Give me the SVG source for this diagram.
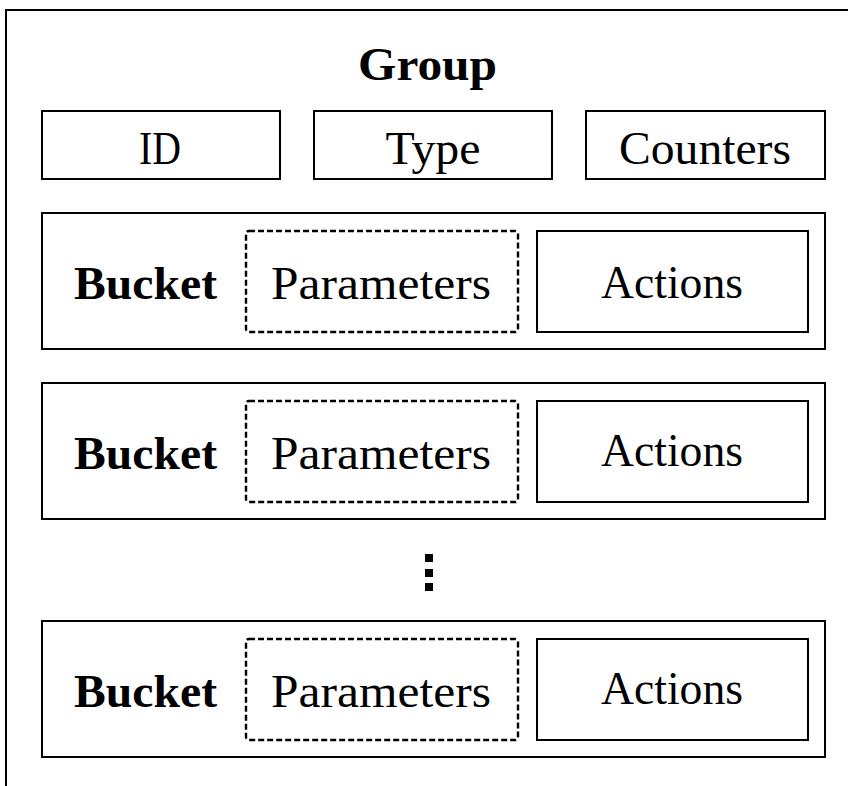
<svg xmlns="http://www.w3.org/2000/svg" width="848" height="786" viewBox="0 0 848 786">
<style>
.box{fill:#fff;stroke:#000;stroke-width:2}
.dash{fill:#fff;stroke:#000;stroke-width:2.4;stroke-dasharray:6 3}
.t{font-family:"Liberation Serif",serif;font-size:46px;fill:#000;text-anchor:middle}
.b{font-family:"Liberation Serif",serif;font-size:46px;font-weight:bold;fill:#000}
</style>
<rect width="848" height="786" fill="#fff"/>
<g id="frame"><path d="M6,786 V10 H848" fill="none" stroke="#000" stroke-width="2"/></g>
<g id="group-title"><text class="b" x="358" y="80" textLength="139" lengthAdjust="spacingAndGlyphs">Group</text></g>
<g id="id"><rect class="box" x="42" y="111" width="238" height="68"/><text class="t" x="160" y="164" textLength="42" lengthAdjust="spacingAndGlyphs">ID</text></g>
<g id="type"><rect class="box" x="314" y="111" width="238" height="68"/><text class="t" x="433" y="164" textLength="95" lengthAdjust="spacingAndGlyphs">Type</text></g>
<g id="counters"><rect class="box" x="586" y="111" width="239" height="68"/><text class="t" x="705" y="164" textLength="172" lengthAdjust="spacingAndGlyphs">Counters</text></g>
<g id="bucket1">
<rect class="box" x="42" y="213" width="783" height="136"/>
<text class="b" x="74" y="299" textLength="143" lengthAdjust="spacingAndGlyphs">Bucket</text>
<rect class="dash" x="246" y="231" width="272" height="101" rx="3"/>
<text class="t" x="381" y="299" textLength="220" lengthAdjust="spacingAndGlyphs">Parameters</text>
<rect class="box" x="537" y="231" width="271" height="101" stroke-width="2.5"/>
<text class="t" x="672" y="298" textLength="142" lengthAdjust="spacingAndGlyphs">Actions</text>
</g>
<g id="bucket2">
<rect class="box" x="42" y="383" width="783" height="136"/>
<text class="b" x="74" y="469" textLength="143" lengthAdjust="spacingAndGlyphs">Bucket</text>
<rect class="dash" x="246" y="401" width="272" height="101" rx="3"/>
<text class="t" x="381" y="469" textLength="220" lengthAdjust="spacingAndGlyphs">Parameters</text>
<rect class="box" x="537" y="401" width="271" height="101" stroke-width="2.5"/>
<text class="t" x="672" y="466" textLength="142" lengthAdjust="spacingAndGlyphs">Actions</text>
</g>
<g id="ellipsis">
<rect x="425" y="554" width="8" height="8"/>
<rect x="425" y="569" width="8" height="8"/>
<rect x="425" y="583" width="8" height="8"/>
</g>
<g id="bucket3">
<rect class="box" x="42" y="621" width="783" height="136"/>
<text class="b" x="74" y="707" textLength="143" lengthAdjust="spacingAndGlyphs">Bucket</text>
<rect class="dash" x="246" y="639" width="272" height="101" rx="3"/>
<text class="t" x="381" y="707" textLength="220" lengthAdjust="spacingAndGlyphs">Parameters</text>
<rect class="box" x="537" y="639" width="271" height="101" stroke-width="2.5"/>
<text class="t" x="672" y="704" textLength="142" lengthAdjust="spacingAndGlyphs">Actions</text>
</g>
<g id="connectors"></g>
</svg>
